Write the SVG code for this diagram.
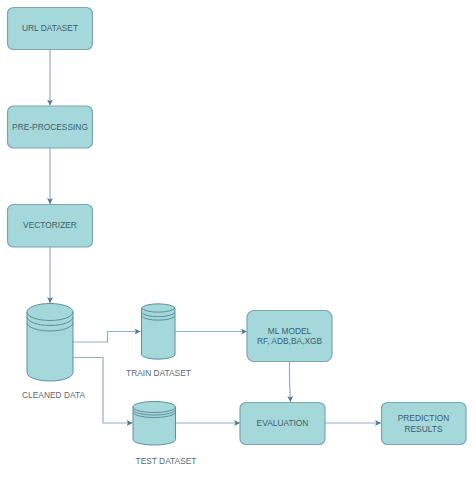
<svg xmlns="http://www.w3.org/2000/svg" width="474" height="481" viewBox="0 0 474 481">
<style>
.n{fill:#a5d8da;stroke:#7ba6b0;stroke-width:1.2}
.c{fill:none;stroke:#8fb1be;stroke-width:1.2}
.d{fill:#a5d8da;stroke:#5f8e9e;stroke-width:1}
.dl{fill:none;stroke:#5f8e9e;stroke-width:1}
text{font-family:"Liberation Sans",Arial,sans-serif;font-size:8.4px;fill:#3c5f6e;text-anchor:middle}
.l{fill:#566b78}
</style>
<defs><marker id="a" markerWidth="7" markerHeight="6" refX="6" refY="3" orient="auto" markerUnits="userSpaceOnUse"><path d="M0 0L6 3L0 6L1.500 3Z" fill="#4f7a92"/></marker></defs>
<rect width="474" height="481" fill="#fff"/>
<g id="connectors">
<path class="c" marker-end="url(#a)" d="M50 49V105.500"/>
<path class="c" marker-end="url(#a)" d="M50 148V204"/>
<path class="c" marker-end="url(#a)" d="M50 247V303"/>
<path class="c" marker-end="url(#a)" d="M73 342H107.500V331.500H140.500"/>
<path class="c" marker-end="url(#a)" d="M73 357.500H103V423H132.500"/>
<path class="c" marker-end="url(#a)" d="M175.500 331.500H247"/>
<path class="c" marker-end="url(#a)" d="M175.500 423H240"/>
<path class="c" marker-end="url(#a)" d="M289.500 361.500V381L290.500 402"/>
<path class="c" marker-end="url(#a)" d="M325 423H381"/>
</g>
<g id="url-dataset"><rect class="n" x="7.500" y="7.500" width="85" height="42" rx="6"/><text x="50" y="31">URL DATASET</text></g>
<g id="pre-processing"><rect class="n" x="7.500" y="106" width="85" height="42" rx="6"/><text x="50" y="129.500">PRE-PROCESSING</text></g>
<g id="vectorizer"><rect class="n" x="7.500" y="204.500" width="85" height="42.500" rx="6"/><text x="50" y="228">VECTORIZER</text></g>
<g id="cleaned-data">
<path class="d" d="M27 312A23 8.500 0 0 1 73 312V372.500A23 8.500 0 0 1 27 372.500Z"/>
<path class="dl" d="M27 312A23 8.500 0 0 0 73 312M27 317A23 8.500 0 0 0 73 317M27 322.500A23 8.500 0 0 0 73 322.500"/>
<text class="l" x="53.500" y="398">CLEANED DATA</text></g>
<g id="train-dataset">
<path class="d" d="M141.500 308A17 5 0 0 1 175 308V355A17 5 0 0 1 141.500 355Z"/>
<path class="dl" d="M141.500 308A17 5 0 0 0 175 308M141.500 312.500A17 5 0 0 0 175 312.500M141.500 316A17 5 0 0 0 175 316"/>
<text class="l" x="158.500" y="376">TRAIN DATASET</text></g>
<g id="test-dataset">
<path class="d" d="M133 407A21 5.500 0 0 1 175.500 407V439.500A21 5.500 0 0 1 133 439.500Z"/>
<path class="dl" d="M133 407A21 5.500 0 0 0 175.500 407M133 409.500A21 5.500 0 0 0 175.500 409.500M133 412A21 5.500 0 0 0 175.500 412"/>
<text class="l" x="166" y="464">TEST DATASET</text></g>
<g id="ml-model"><rect class="n" x="247" y="310.500" width="85" height="51" rx="7"/><text x="289.500" y="334">ML MODEL</text><text x="289.500" y="344">RF, ADB,BA,XGB</text></g>
<g id="evaluation"><rect class="n" x="240" y="402.500" width="85" height="42" rx="6"/><text x="282.500" y="426">EVALUATION</text></g>
<g id="prediction-results"><rect class="n" x="381.500" y="402.500" width="84.500" height="42" rx="6"/><text x="423.500" y="421">PREDICTION</text><text x="423.500" y="431.500">RESULTS</text></g>
</svg>
